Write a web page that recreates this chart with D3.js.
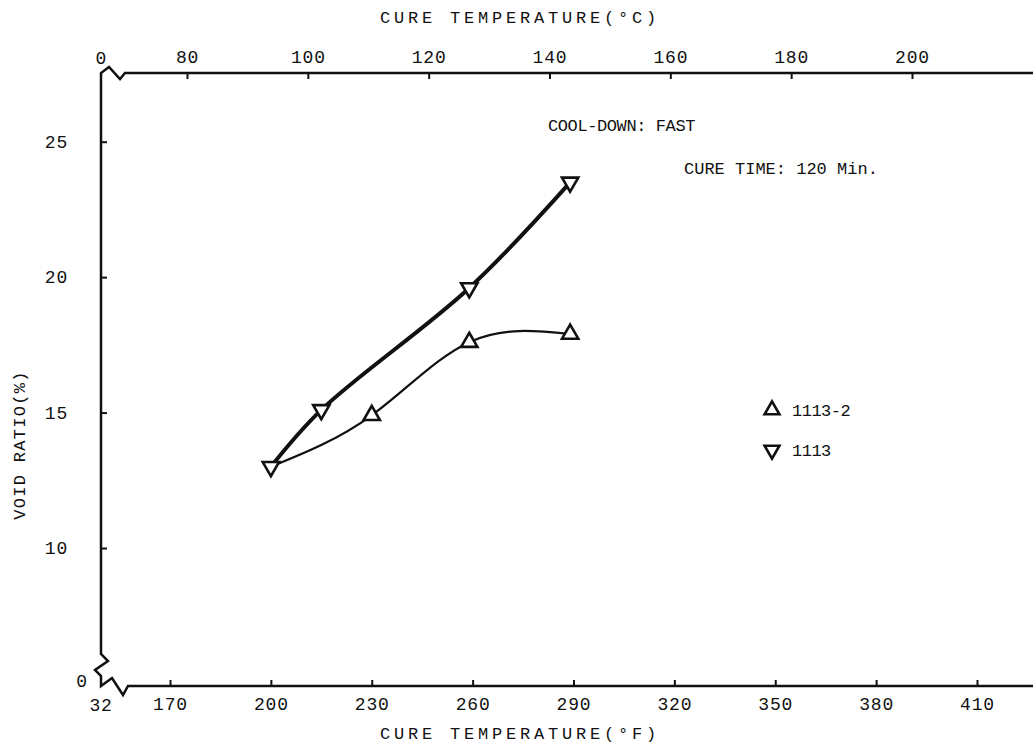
<!DOCTYPE html>
<html>
<head>
<meta charset="utf-8">
<script src="https://cdn.jsdelivr.net/npm/d3@7"></script>
<style>
  body { margin: 0; background: #fff; }
  text { font-family: "Liberation Mono", "DejaVu Sans Mono", monospace; fill: #111; }
</style>
</head>
<body>
<svg id="chart" width="1033" height="745"></svg>
<script>
// data
var series1113F = [200, 215, 259, 289];
var series1113V = [13.0, 15.1, 19.6, 23.5];
var series11132F = [200, 230, 259, 289];   // first point shares the 1113 start
var series11132V = [13.0, 14.9, 17.6, 17.9];

var fTicks = [170, 200, 230, 260, 290, 320, 350, 380, 410];
var cTicks = [80, 100, 120, 140, 160, 180, 200];
var yTicks = [10, 15, 20, 25];
var originLabels = { f: "32", c: "0", y: "0" };   // labels at the broken origin
var legendNames = ["1113-2", "1113"];

var svg = d3.select("#chart"),
    width = +svg.attr("width"),
    height = +svg.attr("height");

var axL = 101, axT = 73, axB = 686, axR = width;

var x = d3.scaleLinear().domain([170, 410]).range([170, 977]);
var xc = d3.scaleLinear().domain([80, 200]).range([187, 912]);
var y = d3.scaleLinear().domain([10, 25]).range([548, 141.7]);

svg.append("rect").attr("width", width).attr("height", height).attr("fill", "#fff");

// axes (ticks point inward, domain drawn by hand because of the breaks)
var gx = svg.append("g")
    .attr("transform", "translate(0," + axB + ")")
    .call(d3.axisBottom(x).tickValues(fTicks).tickSizeInner(-6).tickSizeOuter(0).tickPadding(11));
var gc = svg.append("g")
    .attr("transform", "translate(0," + axT + ")")
    .call(d3.axisTop(xc).tickValues(cTicks).tickSizeInner(-6).tickSizeOuter(0).tickPadding(10));
var gy = svg.append("g")
    .attr("transform", "translate(" + axL + ",0)")
    .call(d3.axisLeft(y).tickValues(yTicks).tickSizeInner(-6).tickSizeOuter(0).tickPadding(34));

[gx, gc, gy].forEach(function(g) {
    g.select(".domain").remove();
    g.selectAll(".tick line").attr("stroke", "#111").attr("stroke-width", 2);
    g.selectAll(".tick text")
        .style("font-size", "18px")
        .style("letter-spacing", "0.8px")
        .attr("fill", "#111");
});
gy.selectAll(".tick text").attr("text-anchor", "end").attr("x", -33);

// axis lines with break marks
var axisPath = d3.path();
axisPath.moveTo(axR, axT);
axisPath.lineTo(axL + 24, axT);
axisPath.lineTo(axL + 19, axT + 6);
axisPath.lineTo(axL + 8, axT - 6);
axisPath.lineTo(axL, axT);
axisPath.lineTo(axL, axB - 32);
axisPath.lineTo(axL + 7, axB - 25);
axisPath.lineTo(axL - 6, axB - 16);
axisPath.lineTo(axL, axB - 10);
axisPath.lineTo(axL, axB);
axisPath.lineTo(axL + 11, axB - 8);
axisPath.lineTo(axL + 22, axB + 9);
axisPath.lineTo(axL + 27, axB);
axisPath.lineTo(axR, axB);
svg.append("path")
    .attr("d", axisPath.toString())
    .attr("fill", "none")
    .attr("stroke", "#111")
    .attr("stroke-width", 2.5)
    .attr("stroke-linejoin", "miter");

// origin labels
svg.append("text").attr("x", axL).attr("y", axB + 25)
    .attr("text-anchor", "middle").style("font-size", "18px").style("letter-spacing", "0.8px")
    .text(originLabels.f);
svg.append("text").attr("x", axL).attr("y", axT - 9)
    .attr("text-anchor", "middle").style("font-size", "18px")
    .text(originLabels.c);
svg.append("text").attr("x", axL - 14).attr("y", y(5) + 4)
    .attr("text-anchor", "end").style("font-size", "18px")
    .text(originLabels.y);

// titles
svg.append("text").attr("x", 520).attr("y", 23)
    .attr("text-anchor", "middle").style("font-size", "17px").style("letter-spacing", "3.8px")
    .text("CURE TEMPERATURE(°C)");
svg.append("text").attr("x", 520).attr("y", 739)
    .attr("text-anchor", "middle").style("font-size", "17px").style("letter-spacing", "3.8px")
    .text("CURE TEMPERATURE(°F)");
svg.append("text")
    .attr("transform", "translate(25,445) rotate(-90)")
    .attr("text-anchor", "middle").style("font-size", "17px").style("letter-spacing", "1.3px")
    .text("VOID RATIO(%)");

svg.append("text").attr("x", 548).attr("y", 131)
    .style("font-size", "17px").style("letter-spacing", "-0.4px")
    .text("COOL-DOWN: FAST");
svg.append("text").attr("x", 684).attr("y", 174)
    .style("font-size", "17px").style("letter-spacing", "0px")
    .text("CURE TIME: 120 Min.");

// curves
var lineThick = d3.line()
    .x(function(d) { return x(d[0]); })
    .y(function(d) { return y(d[1]); })
    .curve(d3.curveCatmullRom.alpha(0.5));
var lineThin = d3.line()
    .x(function(d) { return x(d[0]); })
    .y(function(d) { return y(d[1]); })
    .curve(d3.curveNatural);

var d1113 = d3.zip(series1113F, series1113V);
var d11132 = d3.zip(series11132F, series11132V);

svg.append("path").datum(d11132)
    .attr("d", lineThin).attr("fill", "none").attr("stroke", "#111").attr("stroke-width", 2.2);
svg.append("path").datum(d1113)
    .attr("d", lineThick).attr("fill", "none").attr("stroke", "#111").attr("stroke-width", 4);

// markers
var tri = d3.symbol().type(d3.symbolTriangle).size(115);

svg.selectAll(".up").data(d11132.slice(1)).enter().append("path")
    .attr("class", "up")
    .attr("d", tri)
    .attr("transform", function(d) { return "translate(" + x(d[0]) + "," + y(d[1]) + ")"; })
    .attr("fill", "#fff").attr("stroke", "#111").attr("stroke-width", 2.6);

svg.selectAll(".down").data(d1113).enter().append("path")
    .attr("class", "down")
    .attr("d", tri)
    .attr("transform", function(d) { return "translate(" + x(d[0]) + "," + y(d[1]) + ") rotate(180)"; })
    .attr("fill", "#fff").attr("stroke", "#111").attr("stroke-width", 2.6);

// legend
var legend = svg.selectAll(".legend").data(legendNames).enter().append("g")
    .attr("class", "legend")
    .attr("transform", function(d, i) { return "translate(772," + (410 + i * 40) + ")"; });
legend.append("path")
    .attr("d", d3.symbol().type(d3.symbolTriangle).size(95))
    .attr("transform", function(d, i) { return i ? "rotate(180)" : null; })
    .attr("fill", "#fff").attr("stroke", "#111").attr("stroke-width", 2.6);
legend.append("text")
    .attr("x", 20).attr("y", 6)
    .style("font-size", "17px").style("letter-spacing", "-0.5px")
    .text(function(d) { return d; });
</script>
</body>
</html>
